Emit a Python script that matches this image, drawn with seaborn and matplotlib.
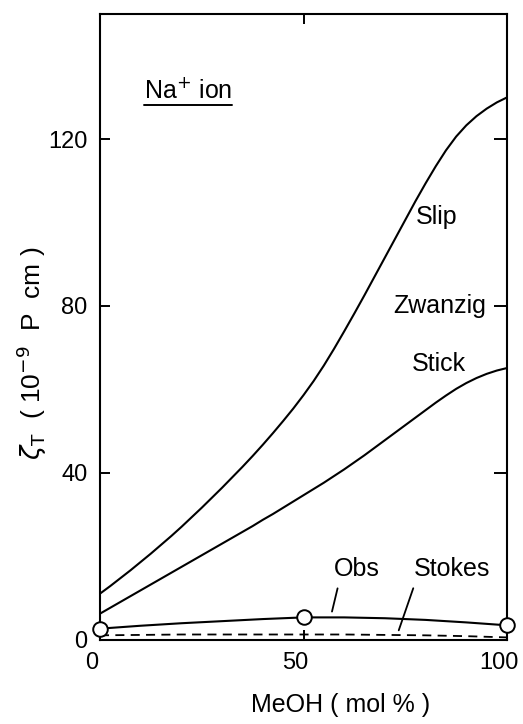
import matplotlib
matplotlib.use("Agg")
import matplotlib.pyplot as plt
import matplotlib.transforms as mtransforms
import seaborn as sns
import pandas as pd

# ---- data ----
meoh = [0, 2.5, 5, 7.5, 10, 12.5, 15, 17.5, 20, 22.5, 25, 27.5, 30, 32.5, 35, 37.5,
        40, 42.5, 45, 47.5, 50, 52.5, 55, 57.5, 60, 62.5, 65, 67.5, 70, 72.5, 75,
        77.5, 80, 82.5, 85, 87.5, 90, 92.5, 95, 97.5, 100]
slip = [11.0, 12.8, 14.7, 16.6, 18.6, 20.6, 22.7, 24.8, 27.0, 29.3, 31.6, 34.0, 36.4,
        38.9, 41.4, 44.0, 46.7, 49.5, 52.4, 55.4, 58.6, 62.0, 65.7, 69.7, 73.9, 78.2,
        82.6, 87.1, 91.6, 96.1, 100.6, 105.1, 109.4, 113.5, 117.3, 120.6, 123.3, 125.5,
        127.3, 128.8, 130.0]
stick = [6.2, 7.6, 9.0, 10.4, 11.8, 13.2, 14.6, 16.0, 17.4, 18.8, 20.2, 21.6, 23.0,
         24.4, 25.8, 27.2, 28.7, 30.1, 31.6, 33.1, 34.6, 36.1, 37.6, 39.2, 40.8, 42.5,
         44.2, 46.0, 47.8, 49.6, 51.4, 53.2, 55.0, 56.8, 58.5, 60.1, 61.5, 62.7, 63.7,
         64.5, 65.1]

obs_x = [0, 10, 20, 30, 40, 50, 60, 70, 80, 90, 100]
obs_line = [2.6, 3.3, 3.9, 4.4, 4.9, 5.3, 5.3, 5.1, 4.7, 4.1, 3.4]
stokes = [1.0, 1.1, 1.2, 1.2, 1.2, 1.2, 1.2, 1.1, 1.0, 0.8, 0.5]

obs_pts_x = [0, 50, 100]
obs_pts_y = [2.6, 5.3, 3.4]

x_ticks = [0, 50, 100]
y_ticks = [0, 40, 80, 120]

sns.set_theme(style="white")
plt.rcParams["font.family"] = ["Liberation Sans", "DejaVu Sans"]
plt.rcParams["mathtext.fontset"] = "dejavusans"
plt.rcParams["text.color"] = "black"
plt.rcParams["axes.labelcolor"] = "black"
plt.rcParams["xtick.color"] = "black"
plt.rcParams["ytick.color"] = "black"

fig = plt.figure(figsize=(5.23, 7.24), dpi=100)
ax = fig.add_axes([100 / 523, 1 - 639.5 / 724, 407 / 523, 625.5 / 724])

curves = pd.DataFrame({"x": meoh, "Slip": slip, "Stick": stick})
obs_df = pd.DataFrame({"x": obs_x, "Obs": obs_line, "Stokes": stokes})
pts_df = pd.DataFrame({"x": obs_pts_x, "y": obs_pts_y})

lw = 1.5
sns.lineplot(data=curves, x="x", y="Slip", ax=ax, color="black", lw=lw)
sns.lineplot(data=curves, x="x", y="Stick", ax=ax, color="black", lw=lw)
sns.lineplot(data=obs_df, x="x", y="Obs", ax=ax, color="black", lw=lw)
sns.lineplot(data=obs_df, x="x", y="Stokes", ax=ax, color="black", lw=1.3,
             dashes=False, linestyle=(0, (5, 3.5)))
sns.scatterplot(data=pts_df, x="x", y="y", ax=ax, s=110, facecolor="white",
                edgecolor="black", linewidth=1.4, zorder=5, clip_on=False)

ax.set_xlim(0, 100)
ax.set_ylim(0, 150)
ax.set_xticks(x_ticks)
ax.set_yticks(y_ticks)
ax.set_xticklabels([str(v) for v in x_ticks])
ax.set_yticklabels([str(v) for v in y_ticks])

for s in ax.spines.values():
    s.set_visible(True)
    s.set_color("black")
    s.set_linewidth(1.5)

ax.tick_params(axis="both", which="both", direction="in", colors="black",
               labelsize=17, width=1.4)
ax.tick_params(axis="x", top=True, bottom=True, length=7.5, pad=9)
ax.tick_params(axis="y", left=True, right=True, length=7.5, pad=9)
for t in ax.yaxis.get_major_ticks():
    t.tick2line.set_markersize(9.5)
for t, v in zip(ax.xaxis.get_major_ticks(), x_ticks):
    if v != 50:
        t.tick2line.set_visible(False)
    if v in (0, 100):
        t.tick1line.set_visible(False)
for t, v in zip(ax.yaxis.get_major_ticks(), y_ticks):
    if v == 0:
        t.tick1line.set_visible(False)
        t.tick2line.set_visible(False)

# shift x tick labels slightly left (as in the scanned original)
offset = mtransforms.ScaledTranslation(-0.08, 0, fig.dpi_scale_trans)
for lab in ax.get_xticklabels():
    lab.set_transform(lab.get_transform() + offset)

ax.set_xlabel("MeOH ( mol % )", fontsize=18)
ax.set_ylabel(r"$\zeta_{\mathrm{T}}$  ( 10$^{-9}$  P  cm )", fontsize=19)
ax.xaxis.set_label_coords(0.59, -0.086)
ax.yaxis.set_label_coords(-0.125, 0.458)

# curve labels
fs = 18
ax.text(77.7, 101.3, "Slip", fontsize=fs, ha="left", va="center")
ax.text(94.9, 80, "Zwanzig", fontsize=fs, ha="right", va="center")
ax.text(76.6, 66.1, "Stick", fontsize=fs, ha="left", va="center")

ax.annotate("Obs", xy=(57.0, 6.7), xytext=(63.2, 16.9), fontsize=fs,
            ha="center", va="center",
            arrowprops=dict(arrowstyle="-", color="black", lw=1.3,
                            relpos=(0.11, 0.0), shrinkA=3, shrinkB=0))
ax.annotate("Stokes", xy=(73.4, 2.2), xytext=(86.4, 16.9), fontsize=fs,
            ha="center", va="center",
            arrowprops=dict(arrowstyle="-", color="black", lw=1.3,
                            relpos=(0.03, 0.0), shrinkA=3, shrinkB=0))

na = ax.text(10.8, 131.7, r"Na$^{+}$ ion", fontsize=18, ha="left", va="center")
fig.canvas.draw()
bb = na.get_window_extent().transformed(ax.transAxes.inverted())
ax.plot([bb.x0, bb.x1], [bb.y0 - 0.004, bb.y0 - 0.004], transform=ax.transAxes,
        color="black", lw=1.4)

fig.savefig("out.png", dpi=100, facecolor="white")
